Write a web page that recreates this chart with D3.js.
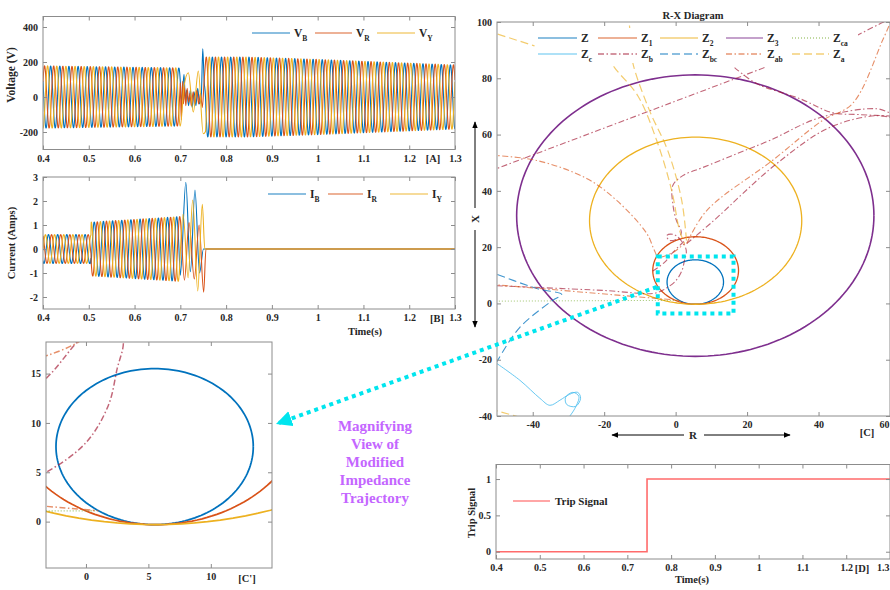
<!DOCTYPE html>
<html><head><meta charset="utf-8">
<script src="https://cdn.jsdelivr.net/npm/d3@7"></script>
<style>
body{margin:0;background:#fff;}
svg{display:block;font-family:"Liberation Serif","Times New Roman",serif;font-weight:bold;}
</style></head><body>
<svg id="c" width="890" height="590"></svg>
<script>
// ================= DATA =================
const timeTicks = [0.4,0.5,0.6,0.7,0.8,0.9,1,1.1,1.2,1.3];
const voltageTicks = [-200,0,200,400];
const currentTicks = [-2,-1,0,1,2,3];
const tripTicks = [0,0.5,1];
const rTicks = [-40,-20,0,20,40,60];
const xTicks = [-40,-20,0,20,40,60,80,100];
const zoomRTicks = [0,5,10];
const zoomXTicks = [0,5,10,15];

const phaseNames = ["B","R","Y"];
const phaseColors = ["#0072BD","#D95319","#EDB120"];
const phaseLagCycles = [0, 1/3, -1/3];
const SYSTEM_HZ = 50;
const SAMPLE_DT = 0.0004;

// voltage envelope (time s, peak V)
const vPreT = [0.4, 0.7];          const vPreA = [178, 166];       const vPrePeakB = 0.6967;
const vPostT = [0.7555, 0.85, 1.0, 1.3]; const vPostA = [228, 228, 215, 183]; const vPostPeakB = 0.75;
// fault transient points (time, V)
const vFaultB = [[0.700,84],[0.703,-30],[0.708,130],[0.711,-20],[0.714,40],[0.718,-50],[0.722,40],[0.726,-60],[0.730,30],[0.734,-50],[0.738,50],[0.742,-40],[0.746,20],[0.749,275],[0.752,90],[0.755,0]];
const vFaultR = [[0.700,81],[0.702,-130],[0.705,90],[0.707,-40],[0.709,60],[0.712,-50],[0.715,50],[0.718,-30],[0.721,20],[0.724,-50],[0.728,30],[0.732,-40],[0.736,40],[0.740,-40],[0.744,20],[0.748,-60],[0.752,90],[0.755,197]];
const vFaultY = [[0.700,-166],[0.708,60],[0.7175,139],[0.7284,-86],[0.7393,149],[0.750,-210],[0.755,-197]];

// current envelope (time s, peak A)
const iSeg1T = [0.4, 0.505];  const iSeg1A = [0.6, 0.6];
const iSeg2T = [0.505, 0.7];  const iSeg2A = [1.12, 1.35];
const iPeakB = 0.692;
const iFaultB = [[0.700,-1.09],[0.712,2.78],[0.722,-0.95],[0.732,2.46],[0.742,-1.0],[0.7505,0],[0.757,0],[1.3,0]];
const iFaultR = [[0.700,1.23],[0.709,-1.3],[0.719,1.1],[0.7305,-1.25],[0.741,1.0],[0.751,-1.8],[0.756,0],[1.3,0]];
const iFaultY = [[0.700,-0.14],[0.706,1.45],[0.717,-1.2],[0.727,2.04],[0.738,-1.75],[0.748,1.86],[0.7535,0],[1.3,0]];

// trip signal
const tripT = [0.4, 0.745, 0.745, 1.3];
const tripV = [0, 0, 1, 1];

// R-X diagram: characteristic circles (R centre, X centre, radius)
const circleNames = ["Z","Z1","Z2","Z3"];
const circleR = [5.5, 5.6, 5.6, 5.5];
const circleX = [7.6, 11.7, 29.4, 31.2];
const circleRad = [7.9, 12.0, 29.7, 50.0];

// impedance trajectories [R, X]
const trajZca  = [[-52,0.8],[0.8,1.1]];
const trajZc   = [[-51,-20.5],[-43.6,-27.3],[-38,-33.7],[-35.2,-36.2],[-32.4,-34.4],[-29.7,-32.3],[-27.4,-31.6],[-26.6,-33.7],[-28,-36.6],[-30.5,-35.9],[-30.8,-33.4],[-28.8,-31.6],[-27.1,-33],[-28.2,-37.3],[-30.5,-41.5]];
const trajZb1  = [[-52,47],[25.5,84.1]];
const trajZb2  = [[16.5,83.8],[22.7,78.1],[34.7,72.8],[43.9,67.8],[51.5,67.1],[62,66.5]];
const trajZb3  = [[50.6,95.1],[57.9,99.8],[62,102]];
const trajZb4  = [[62,67.2],[59.9,67.8],[56.2,69.2],[40.3,66.0],[26.3,57.9],[17.1,53.2],[7.6,48.3],[2,45.4],[-0.8,41.9],[-0.8,35.5],[0.2,29.5],[1.6,25.2],[0.6,23.1],[-1.7,22.4],[-2.5,24.1],[-0.5,24.5],[2.5,20.6],[3,18.2],[2.5,15.5],[1.8,11.8],[0,8],[-3.2,5],[-6,3.6],[-20,4.6],[-52,6.4]];
const trajZb5  = [[-6.4,11.5],[-3.2,14.5],[-0.7,18.2],[2.3,22]];
const trajZb6  = [[3.1,21.3],[10.1,28.8],[28.3,49.7],[43.1,62.5],[56.2,66.7],[62,65.5]];
const trajZbc  = [[-53,11.8],[-38.9,5.3],[-31.9,3.2],[-34.4,1.1],[-43.6,-8.5],[-49.8,-20.2],[-51,-23]];
const trajZab1 = [[-52,52.7],[-38.9,50.8],[-24.9,44.4],[-16.5,36.6],[-8.1,24.9],[-6,19],[-4.8,16.3],[-3.2,16.8],[-0.6,18.2],[2.5,21.3]];
const trajZab2 = [[-52,6.8],[1,1.1]];
const trajZab3 = [[3.1,21.3],[8.7,33.0],[27.1,50.8],[41.1,65.0],[49.5,71.0],[57.9,93.4],[60.5,101]];
const trajZa1  = [[-19,88],[-17.1,83.8],[-10.6,73.8],[-5.3,57.9],[-1.1,40.1],[1.1,25.9],[2.5,21.3]];
const trajZa2  = [[-13.2,103],[-12.6,94],[-12,85.6],[-7.3,68.5],[-2.2,54.3],[1.7,36.6],[3.1,21.3]];
const trajZa3  = [[-53,97],[-39.5,91.5]];
const trajZa4  = [[-52,-37.5],[-42,-41]];

// zoom window (R,X) shown as dotted box
const zoomBoxR = [-5, 16.2];
const zoomBoxX = [-3.6, 16.7];

const legendCNames = [["Z",""],["Z","1"],["Z","2"],["Z","3"],["Z","ca"],["Z","c"],["Z","b"],["Z","bc"],["Z","ab"],["Z","a"]];
const magnifyLines = ["Magnifying","View of","Modified","Impedance","Trajectory"];

// ================= STYLES =================
const STY = {
  Z:  {c:"#0072BD", d:null, w:1.3, o:1},
  Z1: {c:"#D95319", d:null, w:1.3, o:1},
  Z2: {c:"#EDB120", d:null, w:1.3, o:1},
  Z3: {c:"#7E2F8E", d:null, w:1.6, o:1},
  Zca:{c:"#77AC30", d:"1,2", w:1, o:0.7},
  Zc: {c:"#4DBEEE", d:null, w:1, o:0.85},
  Zb: {c:"#A2142F", d:"6,2.5,1.5,2.5", w:1.1, o:0.65},
  Zbc:{c:"#0072BD", d:"8,4", w:1.1, o:0.75},
  Zab:{c:"#D95319", d:"6,2.5,1.5,2.5", w:1.1, o:0.65},
  Za: {c:"#EDB120", d:"8,4", w:1.2, o:0.65}
};
const legendKeys = ["Z","Z1","Z2","Z3","Zca","Zc","Zb","Zbc","Zab","Za"];
const trajList = [
  ["Zca",trajZca],["Zc",trajZc],["Zb",trajZb1],["Zb",trajZb2],["Zb",trajZb3],["Zb",trajZb4],["Zb",trajZb5],["Zb",trajZb6],
  ["Zbc",trajZbc],["Zab",trajZab1],["Zab",trajZab2],["Zab",trajZab3],["Za",trajZa1],["Za",trajZa2],["Za",trajZa3],["Za",trajZa4]
];

const AX = "#8c8c8c", TXT = "#262626";
const svg = d3.select("#c");
const defs = svg.append("defs");

// ================= HELPERS =================
function clip(id, x, y) {
  defs.append("clipPath").attr("id", id).append("rect")
    .attr("x", x.range()[0]).attr("y", y.range()[1])
    .attr("width", x.range()[1]-x.range()[0]).attr("height", y.range()[0]-y.range()[1]);
  return "url(#" + id + ")";
}
function axes(x, y, xt, yt, fx, fy) {
  const g = svg.append("g").attr("font-family","'Liberation Serif','Times New Roman',serif").attr("font-weight","bold");
  const [x0,x1] = x.range(), [y0,y1] = y.range();
  const b = g.append("g").attr("transform",`translate(0,${y0})`).call(d3.axisBottom(x).tickValues(xt).tickSizeInner(-4).tickSizeOuter(0).tickPadding(5).tickFormat(fx));
  const t = g.append("g").attr("transform",`translate(0,${y1})`).call(d3.axisTop(x).tickValues(xt).tickSizeInner(-4).tickSizeOuter(0).tickFormat(""));
  const l = g.append("g").attr("transform",`translate(${x0},0)`).call(d3.axisLeft(y).tickValues(yt).tickSizeInner(-4).tickSizeOuter(0).tickPadding(5).tickFormat(fy));
  const r = g.append("g").attr("transform",`translate(${x1},0)`).call(d3.axisRight(y).tickValues(yt).tickSizeInner(-4).tickSizeOuter(0).tickFormat(""));
  [b,t,l,r].forEach(a => {
    a.select(".domain").remove();
    a.selectAll("line").attr("stroke",AX);
    a.selectAll("text").attr("fill",TXT).attr("font-size",10).attr("font-family","'Liberation Serif','Times New Roman',serif").attr("font-weight","bold");
  });
  // keep a tick label that would run past the picture's right edge inside it
  b.selectAll(".tick").each(function(v) {
    if (x(v) > 880) d3.select(this).select("text").attr("text-anchor","end").attr("x", 889 - x(v));
  });
  g.append("rect").attr("x",x0).attr("y",y1).attr("width",x1-x0).attr("height",y0-y1)
    .attr("fill","none").attr("stroke",AX).attr("stroke-width",1);
  return g;
}
function text(x, y, s, size, opts={}) {
  const t = svg.append("text").attr("x",x).attr("y",y).attr("font-size",size).attr("fill",opts.fill||TXT)
    .attr("text-anchor",opts.anchor||"start").text(s);
  if (opts.rot) t.attr("transform",`rotate(-90,${x},${y})`);
  return t;
}
function legendEntry(x0, x1, y, st, base, sub) {
  svg.append("line").attr("x1",x0).attr("x2",x1).attr("y1",y).attr("y2",y)
    .attr("stroke",st.c).attr("stroke-width",1.4).attr("stroke-dasharray",st.d).attr("opacity",0.6);
  const t = svg.append("text").attr("x",x1+4).attr("y",y+4).attr("font-size",11.5).attr("fill",TXT);
  t.append("tspan").text(base);
  if (sub) t.append("tspan").attr("font-size",7.5).attr("dy",3.5).text(sub);
}
function sineSeg(T, A, peakRef, lag, t0, t1) {
  const env = d3.scaleLinear().domain(T).range(A);
  return d3.range(t0, t1, SAMPLE_DT).map(t => [t, env(t) * Math.cos(2*Math.PI*SYSTEM_HZ*(t-peakRef) - 2*Math.PI*lag)]);
}
const fmtT = d => String(d);

// ================= PANEL A =================
const xA = d3.scaleLinear().domain([0.4,1.3]).range([43,455]);
const yA = d3.scaleLinear().domain([-300,460]).range([149.5,16.5]);
const cA = clip("clA", xA, yA);
const lineA = d3.line().x(d=>xA(d[0])).y(d=>yA(d[1])).curve(d3.curveMonotoneX);
const vFaults = [vFaultB, vFaultR, vFaultY];
const gA = svg.append("g").attr("clip-path", cA);
phaseNames.forEach((p,i) => {
  const pts = sineSeg(vPreT, vPreA, vPrePeakB, phaseLagCycles[i], 0.4, 0.6999)
    .concat(vFaults[i])
    .concat(sineSeg(vPostT, vPostA, vPostPeakB, phaseLagCycles[i], 0.7555, 1.3002));
  gA.append("path").attr("d", lineA(pts)).attr("fill","none").attr("stroke",phaseColors[i]).attr("stroke-width",1.1);
});
axes(xA, yA, timeTicks, voltageTicks, fmtT, d=>String(d));
text(15, 75, "Voltage (V)", 11.5, {anchor:"middle", rot:true});
text(433, 162, "[A]", 10.5, {anchor:"middle"});
[[252,290],[315,352],[377,415]].forEach((r,i)=>legendEntry(r[0], r[1], 33, {c:phaseColors[i]}, "V", phaseNames[i]));

// ================= PANEL B =================
const xB = d3.scaleLinear().domain([0.4,1.3]).range([43,455]);
const yB = d3.scaleLinear().domain([-2.5,3]).range([309,177]);
const cB = clip("clB", xB, yB);
const lineB = d3.line().x(d=>xB(d[0])).y(d=>yB(d[1])).curve(d3.curveMonotoneX);
const iFaults = [iFaultB, iFaultR, iFaultY];
const gB = svg.append("g").attr("clip-path", cB);
phaseNames.forEach((p,i) => {
  const pts = sineSeg(iSeg1T, iSeg1A, iPeakB, phaseLagCycles[i], 0.4, 0.5049)
    .concat(sineSeg(iSeg2T, iSeg2A, iPeakB, phaseLagCycles[i], 0.5051, 0.6999))
    .concat(iFaults[i]);
  gB.append("path").attr("d", lineB(pts)).attr("fill","none").attr("stroke",phaseColors[i]).attr("stroke-width",1.1);
});
axes(xB, yB, timeTicks, currentTicks, fmtT, d=>String(d));
text(15, 243, "Current (Amps)", 10.5, {anchor:"middle", rot:true});
text(437, 322, "[B]", 10.5, {anchor:"middle"});
text(365, 335, "Time(s)", 10.5, {anchor:"middle"});
[[268,306],[328,363],[390,428]].forEach((r,i)=>legendEntry(r[0], r[1], 194, {c:phaseColors[i]}, "I", phaseNames[i]));

// ================= PANEL C (R-X) =================
const xC = d3.scaleLinear().domain([-50,60]).range([497,890]);
const yC = d3.scaleLinear().domain([-40,100]).range([416,22]);
const xZ = d3.scaleLinear().domain([-3.2,14.9]).range([46,272]);
const yZ = d3.scaleLinear().domain([-4.7,18.2]).range([568,342]);

function drawRX(x, y, clipId, wScale) {
  const g = svg.append("g").attr("clip-path", clip(clipId, x, y));
  const ln = d3.line().x(d=>x(d[0])).y(d=>y(d[1])).curve(d3.curveCatmullRom.alpha(0.5));
  const angles = d3.range(0, 361, 2).map(a => a*Math.PI/180);
  circleNames.forEach((n,i) => {
    const pts = angles.map(a => [circleR[i] + circleRad[i]*Math.cos(a), circleX[i] + circleRad[i]*Math.sin(a)]);
    const st = STY[n];
    g.append("path").attr("d", d3.line().x(d=>x(d[0])).y(d=>y(d[1]))(pts)).attr("fill","none")
      .attr("stroke",st.c).attr("stroke-width",st.w*wScale);
  });
  trajList.forEach(([k,pts]) => {
    const st = STY[k];
    g.append("path").attr("d", ln(pts)).attr("fill","none").attr("stroke",st.c)
      .attr("stroke-width",st.w*wScale).attr("stroke-dasharray",st.d).attr("opacity",st.o);
  });
}
drawRX(xC, yC, "clC", 1);
axes(xC, yC, rTicks, xTicks, d=>String(d), d=>String(d));
text(693, 19, "R-X Diagram", 10.5, {anchor:"middle"});
// legend with white background
svg.append("rect").attr("x",536).attr("y",28).attr("width",322).attr("height",35).attr("fill","#fff");
const legCols = [[538,577],[598,637],[660,698],[726,763],[792,829]];
legendKeys.forEach((k,i) => {
  const col = legCols[i%5], y = i<5 ? 38 : 54;
  legendEntry(col[0], col[1], y, STY[k], legendCNames[i][0], legendCNames[i][1]);
});
text(867, 436, "[C]", 10.5, {anchor:"middle"});
// R and X arrows
const mk = defs.append("marker").attr("id","arr").attr("viewBox","0 0 10 10").attr("refX",9).attr("refY",5)
  .attr("markerWidth",7).attr("markerHeight",7).attr("orient","auto-start-reverse");
mk.append("path").attr("d","M0,1 L10,5 L0,9 Z").attr("fill","#000");
svg.append("line").attr("x1",684).attr("y1",435).attr("x2",612).attr("y2",435).attr("stroke","#000").attr("stroke-width",1).attr("marker-end","url(#arr)");
svg.append("line").attr("x1",704).attr("y1",435).attr("x2",790).attr("y2",435).attr("stroke","#000").attr("stroke-width",1).attr("marker-end","url(#arr)");
text(693, 439, "R", 11, {anchor:"middle"});
svg.append("line").attr("x1",475).attr("y1",208).attr("x2",475).attr("y2",122).attr("stroke","#000").attr("stroke-width",1).attr("marker-end","url(#arr)");
svg.append("line").attr("x1",475).attr("y1",230).attr("x2",475).attr("y2",327).attr("stroke","#000").attr("stroke-width",1).attr("marker-end","url(#arr)");
text(479, 219, "X", 11, {anchor:"middle", rot:true});

// zoom box and pointer arrow
const CY = "#00E5EE";
svg.append("rect").attr("x",xC(zoomBoxR[0])).attr("y",yC(zoomBoxX[1]))
  .attr("width",xC(zoomBoxR[1])-xC(zoomBoxR[0])).attr("height",yC(zoomBoxX[0])-yC(zoomBoxX[1]))
  .attr("fill","none").attr("stroke",CY).attr("stroke-width",4).attr("stroke-dasharray","4,4");
const mk2 = defs.append("marker").attr("id","arrC").attr("viewBox","0 0 10 10").attr("refX",8).attr("refY",5)
  .attr("markerWidth",4).attr("markerHeight",4).attr("orient","auto");
mk2.append("path").attr("d","M0,0 L10,5 L0,10 Z").attr("fill",CY);
svg.append("line").attr("x1",xC(zoomBoxR[0])-1).attr("y1",287).attr("x2",279).attr("y2",423)
  .attr("stroke",CY).attr("stroke-width",4).attr("stroke-dasharray","4,4").attr("marker-end","url(#arrC)");

// ================= PANEL C' (zoom) =================
drawRX(xZ, yZ, "clZ", 1.35);
axes(xZ, yZ, zoomRTicks, zoomXTicks, d=>String(d), d=>String(d));
text(247, 582, "[C']", 10.5, {anchor:"middle"});
magnifyLines.forEach((s,i) => text(375, 431 + i*18, s, 15, {anchor:"middle", fill:"#C466FF"}));

// ================= PANEL D =================
const xD = d3.scaleLinear().domain([0.4,1.3]).range([496,890]);
const yD = d3.scaleLinear().domain([-0.1,1.2]).range([559,464.5]);
const gD = svg.append("g").attr("clip-path", clip("clD", xD, yD));
gD.append("path").attr("d", d3.line().x((d,i)=>xD(tripT[i])).y((d,i)=>yD(tripV[i]))(tripT))
  .attr("fill","none").attr("stroke","#FF6B6B").attr("stroke-width",1.6);
axes(xD, yD, timeTicks, tripTicks, fmtT, d=>String(d));
text(475, 513, "Trip Signal", 10.5, {anchor:"middle", rot:true});
text(692, 583, "Time(s)", 10.5, {anchor:"middle"});
text(862, 572, "[D]", 10.5, {anchor:"middle"});
svg.append("line").attr("x1",513).attr("x2",550).attr("y1",501).attr("y2",501).attr("stroke","#FF6B6B").attr("stroke-width",1.6).attr("opacity",0.8);
text(555, 505, "Trip Signal", 11, {});
</script>
</body></html>
